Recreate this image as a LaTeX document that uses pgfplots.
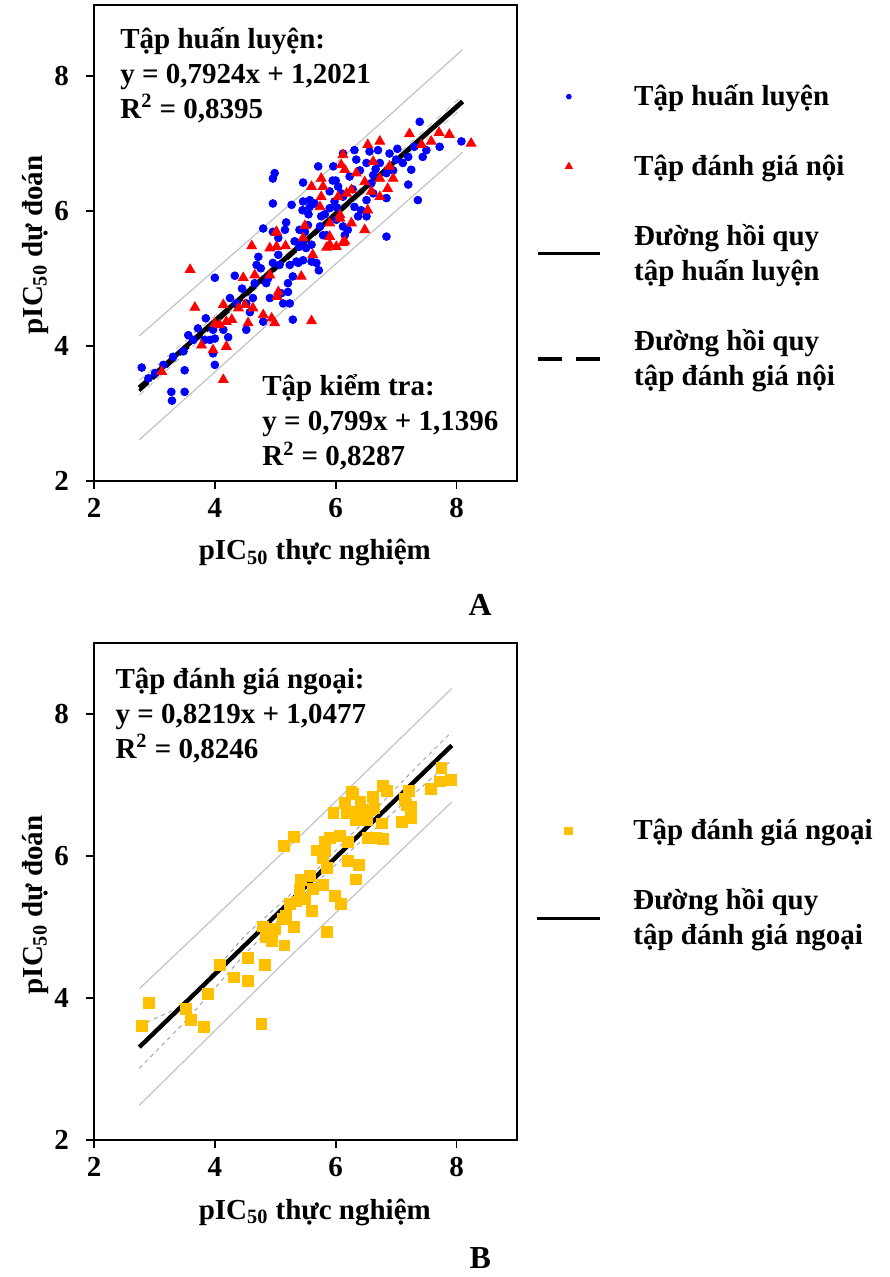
\documentclass[border=0pt]{standalone}
\usepackage{fontspec}
\setmainfont{Liberation Serif}
\usepackage{pgfplots}
\pgfplotsset{compat=1.18}

\definecolor{ptblue}{RGB}{0,0,255}
\definecolor{ptred}{RGB}{255,0,0}
\definecolor{ptyellow}{RGB}{255,192,0}
\definecolor{bandgray}{RGB}{195,195,195}

\newcommand{\ff}{\fontsize{14.5}{17.5}\selectfont\bfseries}

\pgfplotsset{
 myaxis/.style={
  scale only axis, width=211.5pt,
  xmin=2, xmax=9, ymin=2,
  xtick={2,4,6,8}, ytick={2,4,6,8},
  tick align=outside, xtick pos=bottom, ytick pos=left,
  major tick length=4pt,
  tick style={black, line width=0.8pt},
  axis line style={line width=0.8pt},
  tick label style={font=\ff},
  yticklabel style={xshift=-5pt},
  xticklabel style={yshift=-1pt},
  /pgf/number format/assume math mode=true,
  label style={font=\ff},
  clip=false,
  legend style={draw=none, fill=none, font=\ff, inner sep=0pt, row sep=19pt, column sep=14pt, cells={anchor=west, align=left}},
  legend cell align=left,
 },
 markimg/.style={legend image code/.code={\path (0cm,0cm) (1.1cm,0cm); \draw[##1] plot coordinates {(0.55cm,0cm)};}},
 lineimg/.style={legend image code/.code={\draw[##1] (0cm,0cm) -- (1.1cm,0cm);}},
}

\begin{document}
\begin{tikzpicture}
\useasboundingbox (0,0) rectangle (444.5pt,-638.5pt);

% ---------------- Panel A ----------------
\begin{axis}[myaxis, height=238pt, ymax=9.05,
  at={(47pt,-240.5pt)}, anchor=south west,
  xlabel={pIC\textsubscript{50} thực nghiệm},
  ylabel={pIC\textsubscript{50} dự đoán},
  xlabel style={at={(axis description cs:0.522,-0.151)}, anchor=center},
  ylabel style={at={(axis description cs:-0.139,0.496)}, anchor=center},
  legend style={at={(1.043,0.842)}, anchor=north west},
]
% prediction bands
\addplot[bandgray, line width=0.6pt, forget plot] coordinates {(2.75,4.15) (5.4,6.22) (8.1,8.39)};
\addplot[bandgray, line width=0.6pt, forget plot] coordinates {(2.75,2.61) (5.4,4.74) (8.1,6.87)};
\addplot[bandgray, line width=0.5pt, dashed, forget plot] coordinates {(2.75,3.49) (5.4,5.52) (8.1,7.71)};
\addplot[bandgray, line width=0.5pt, dashed, forget plot] coordinates {(2.75,3.27) (5.4,5.44) (8.1,7.53)};
% training set
\addplot[only marks, mark=*, mark size=1.95pt, ptblue, forget plot] coordinates {
(2.79,3.68) (2.90,3.52) (3.01,3.60) (3.15,3.72) (3.31,3.84) (3.28,3.32) (3.50,3.32)
(3.29,3.19) (3.50,3.64) (3.48,3.92) (3.56,4.16) (3.64,4.09) (3.72,4.26) (3.85,4.41)
(3.83,4.09) (3.92,4.09) (3.97,4.24) (4.00,4.11) (3.97,3.89) (4.00,3.72) (4.00,5.01)
(4.33,5.04) (4.22,4.13) (4.14,4.24) (4.25,4.71) (4.36,4.63) (4.52,4.63) (4.52,4.24)
(4.63,4.71) (4.66,4.93) (4.72,5.32) (4.69,5.20) (4.76,5.15) (4.80,4.36) (4.80,5.74)
(4.85,4.93) (4.88,5.00) (4.91,4.71) (4.96,5.23) (4.96,5.69) (4.96,6.11) (4.96,6.48)
(4.99,6.56) (5.05,5.35) (5.05,5.60) (5.07,5.20) (5.10,4.78) (5.13,4.63) (5.16,5.72)
(5.18,5.83) (5.21,4.93) (5.21,4.80) (5.24,5.20) (5.24,4.63) (5.27,6.09) (5.29,5.03)
(5.29,4.39) (5.35,5.25) (5.38,5.23) (5.40,5.72) (5.40,5.47) (5.40,5.52) (5.45,6.01)
(5.46,6.42) (5.46,6.14) (5.46,5.57) (5.46,5.27) (5.49,5.69) (5.51,5.45) (5.54,5.79)
(5.57,6.06) (5.57,6.16) (5.60,5.25) (5.65,6.11) (5.68,5.23) (5.71,6.66) (5.72,5.12)
(5.74,5.77) (5.76,5.92) (5.79,5.64) (5.85,5.64) (5.90,6.29) (5.90,6.04) (5.96,6.66)
(5.98,6.14) (6.00,6.45) (6.01,5.87) (6.04,6.36) (6.09,6.26) (6.12,6.21) (6.12,6.85)
(6.12,5.77) (6.15,5.64) (6.20,5.72) (6.23,6.51) (6.31,6.90) (6.31,6.06) (6.34,6.76)
(6.37,5.92) (6.42,6.01) (6.51,6.71) (6.51,6.16) (6.51,5.92) (6.56,6.88) (6.59,6.41)
(6.62,6.53) (6.62,6.26) (6.70,6.90) (6.73,6.71) (6.84,6.56) (6.84,6.19) (6.84,5.62)
(6.89,6.85) (7.00,6.76) (7.11,6.71) (7.20,6.80) (7.20,6.39) (7.25,6.61) (7.36,6.16)
(7.39,7.32) (7.44,6.80) (7.50,6.90) (7.72,6.95) (8.08,7.03)
(5.60,5.50) (5.82,5.95) (6.28,6.32) (6.02,6.05) (5.32,5.55) (6.66,6.62) (7.02,6.92)
(4.45,4.85) (4.58,4.50) (5.95,6.45) (6.40,6.60) (5.55,5.95) (6.95,6.60) (7.30,6.95)
};
% internal validation set
\addplot[only marks, mark=triangle*, mark size=2.8pt, ptred, forget plot] coordinates {
(3.12,3.62) (3.59,5.13) (3.67,4.57) (3.78,4.01) (3.97,3.94) (4.00,4.33) (4.08,4.31)
(4.14,4.61) (4.14,3.50) (4.19,4.36) (4.19,3.99) (4.28,4.39) (4.39,4.56) (4.47,5.01)
(4.50,4.61) (4.55,4.34) (4.61,5.48) (4.63,4.56) (4.66,5.05) (4.80,4.46) (4.91,5.05)
(4.91,5.45) (4.94,4.41) (4.99,4.34) (5.01,5.68) (5.02,5.47) (5.02,5.69) (5.03,4.73)
(5.05,4.80) (5.17,5.48) (5.43,5.03) (5.46,5.60) (5.49,5.78) (5.60,4.37) (5.60,6.36)
(5.62,5.35) (5.74,6.06) (5.76,6.48) (5.76,6.21) (5.79,6.36) (5.85,5.46) (5.90,5.82)
(5.90,5.62) (5.90,5.50) (6.01,5.47) (6.04,6.21) (6.07,5.89) (6.07,5.94) (6.09,6.68)
(6.12,6.83) (6.12,5.53) (6.15,6.61) (6.15,5.55) (6.18,6.26) (6.26,6.31) (6.26,5.82)
(6.34,6.56) (6.48,6.43) (6.48,5.72) (6.53,6.98) (6.53,6.01) (6.59,6.29) (6.62,6.73)
(6.73,7.03) (6.73,6.48) (6.73,6.21) (6.86,6.33) (6.89,6.66) (6.95,6.48) (7.22,7.14)
(7.42,6.98) (7.58,7.03) (7.71,7.16) (7.88,7.13) (8.24,7.00)
};
% regression lines
\addplot[black, line width=2.4pt, forget plot] coordinates {(2.75,3.3812) (8.1,7.6205)};
\addplot[black, line width=1.6pt, dash pattern=on 6pt off 3pt, forget plot] coordinates {(2.75,3.3369) (8.1,7.6115)};

\addlegendimage{only marks, mark=*, mark size=1.2pt, ptblue, markimg}
\addlegendentry{Tập huấn luyện}
\addlegendimage{only marks, mark=triangle*, mark size=2pt, ptred, markimg}
\addlegendentry{Tập đánh giá nội}
\addlegendimage{black, line width=1.6pt, lineimg}
\addlegendentry{Đường hồi quy\\tập huấn luyện}
\addlegendimage{black, line width=2pt, dash pattern=on 12pt off 7pt, lineimg}
\addlegendentry{Đường hồi quy\\tập đánh giá nội}

\node[anchor=north west, align=left, font=\ff, inner sep=0pt] at (axis cs:2.43,8.73)
  {Tập huấn luyện:\\y = 0,7924x + 1,2021\\R\textsuperscript{2} = 0,8395};
\node[anchor=north west, align=left, font=\ff, inner sep=0pt] at (axis cs:4.78,3.58)
  {Tập kiểm tra:\\y = 0,799x + 1,1396\\R\textsuperscript{2} = 0,8287};
\node[font=\fontsize{16}{18}\selectfont\bfseries] at (rel axis cs:0.913,-0.26) {A};
\end{axis}

% ---------------- Panel B ----------------
\begin{axis}[myaxis, height=248.5pt, ymax=9.0,
  at={(47pt,-570pt)}, anchor=south west,
  xlabel={pIC\textsubscript{50} thực nghiệm},
  ylabel={pIC\textsubscript{50} dự đoán},
  xlabel style={at={(axis description cs:0.522,-0.145)}, anchor=center},
  ylabel style={at={(axis description cs:-0.139,0.473)}, anchor=center},
  legend style={at={(1.043,0.654)}, anchor=north west},
]
\addplot[bandgray, line width=0.6pt, forget plot] coordinates {(2.75,4.13) (5.3,6.19) (7.92,8.36)};
\addplot[bandgray, line width=0.6pt, forget plot] coordinates {(2.75,2.49) (5.3,4.63) (7.92,6.76)};
\addplot[gray!70, line width=0.5pt, dash pattern=on 2pt off 2pt, forget plot] coordinates {(2.75,3.61) (3.5,3.90) (4.5,4.88) (5.5,5.65) (6.5,6.51) (7.25,7.18) (7.92,7.75)};
\addplot[gray!70, line width=0.5pt, dash pattern=on 2pt off 2pt, forget plot] coordinates {(2.75,3.01) (3.5,3.66) (4.5,4.62) (5.5,5.49) (6.5,6.27) (7.25,6.84) (7.92,7.35)};
\addplot[only marks, mark=square*, mark size=2.7pt, ptyellow, forget plot] coordinates {
(2.79,3.61) (2.91,3.93) (3.52,3.85) (3.60,3.69) (3.82,3.59) (3.88,4.06) (4.09,4.47)
(4.31,4.29) (4.55,4.57) (4.55,4.24) (4.77,3.63) (4.80,5.01) (4.83,4.47) (4.84,4.86)
(4.95,4.81) (5.00,4.97) (5.13,5.11) (5.14,6.14) (5.15,4.74) (5.17,5.16) (5.24,5.33)
(5.31,6.27) (5.31,5.00) (5.35,5.36) (5.40,5.52) (5.43,5.66) (5.49,5.40) (5.57,5.72)
(5.60,5.23) (5.62,5.54) (5.68,6.08) (5.79,5.97) (5.79,5.59) (5.82,6.08) (5.82,6.20)
(5.85,5.83) (5.86,4.93) (5.90,6.25) (5.96,6.61) (5.98,5.44) (6.07,6.28) (6.09,5.33)
(6.15,6.75) (6.18,6.60) (6.20,5.93) (6.20,6.20) (6.26,6.90) (6.28,6.88) (6.31,6.62)
(6.33,5.67) (6.34,6.51) (6.39,5.87) (6.41,6.76) (6.45,6.60) (6.51,6.51) (6.53,6.26)
(6.56,6.65) (6.62,6.83) (6.64,6.67) (6.67,6.26) (6.76,6.46) (6.78,6.24) (6.78,6.99)
(6.85,6.92) (7.09,6.48) (7.14,6.81) (7.17,6.72) (7.21,6.92) (7.24,6.53) (7.25,6.69)
(7.58,6.94) (7.72,7.05) (7.75,7.24) (7.91,7.07)
};
\addplot[black, line width=2.2pt, forget plot] coordinates {(2.75,3.3079) (7.92,7.5571)};

\addlegendimage{only marks, mark=square*, mark size=1.8pt, ptyellow, markimg}
\addlegendentry{Tập đánh giá ngoại}
\addlegendimage{black, line width=1.6pt, lineimg}
\addlegendentry{Đường hồi quy\\tập đánh giá ngoại}

\node[anchor=north west, align=left, font=\ff, inner sep=0pt] at (axis cs:2.35,8.66)
  {Tập đánh giá ngoại:\\y = 0,8219x + 1,0477\\R\textsuperscript{2} = 0,8246};
\node[font=\fontsize{16}{18}\selectfont\bfseries] at (rel axis cs:0.913,-0.237) {B};
\end{axis}
\end{tikzpicture}
\end{document}
